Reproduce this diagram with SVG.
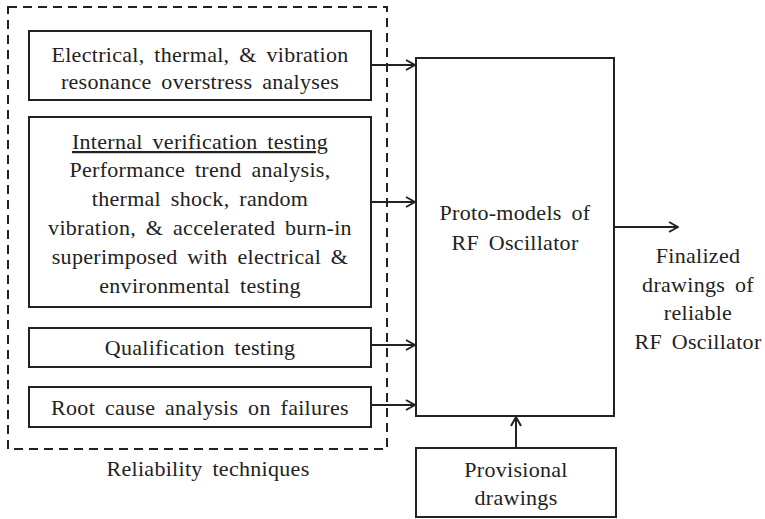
<svg xmlns="http://www.w3.org/2000/svg" width="765" height="519" viewBox="0 0 765 519">
<defs>
<style>
text{font-family:'Liberation Serif','Times New Roman',serif;font-size:22px;fill:#222;text-anchor:middle;word-spacing:4px;letter-spacing:0.3px}
.box{fill:#fff;stroke:#222;stroke-width:2}
.con{stroke:#222;stroke-width:2;fill:none}
</style>
<marker id="arr" viewBox="0 0 12 12" refX="11" refY="6" markerWidth="12" markerHeight="12" markerUnits="userSpaceOnUse" orient="auto">
<path d="M2,1 L11,6 L2,11" fill="none" stroke="#222" stroke-width="2"/>
</marker>
</defs>
<rect width="765" height="519" fill="#fff"/>
<g id="reliability">
<rect x="8" y="7" width="379" height="442" fill="none" stroke="#222" stroke-width="2" stroke-dasharray="9,6"/>
<text x="208" y="476">Reliability techniques</text>
</g>
<g id="n1">
<rect class="box" x="29" y="31" width="342" height="69"/>
<text x="200" y="62">Electrical, thermal, &amp; vibration</text>
<text x="200" y="89">resonance overstress analyses</text>
</g>
<g id="n2">
<rect class="box" x="29" y="117" width="342" height="190"/>
<text x="200" y="149" text-decoration="underline">Internal verification testing</text>
<text x="200" y="177">Performance trend analysis,</text>
<text x="200" y="206">thermal shock, random</text>
<text x="200" y="235">vibration, &amp; accelerated burn-in</text>
<text x="200" y="264">superimposed with electrical &amp;</text>
<text x="200" y="293">environmental testing</text>
</g>
<g id="n3">
<rect class="box" x="29" y="328" width="342" height="39"/>
<text x="200" y="355">Qualification testing</text>
</g>
<g id="n4">
<rect class="box" x="29" y="387" width="342" height="40"/>
<text x="200" y="415">Root cause analysis on failures</text>
</g>
<g id="proto">
<rect class="box" x="416" y="58" width="198" height="358"/>
<text x="515" y="220">Proto-models of</text>
<text x="515" y="250">RF Oscillator</text>
</g>
<g id="provisional">
<rect class="box" x="416" y="448" width="200" height="69"/>
<text x="516" y="477">Provisional</text>
<text x="516" y="505">drawings</text>
</g>
<g id="final">
<text x="698" y="263">Finalized</text>
<text x="698" y="292">drawings of</text>
<text x="698" y="320">reliable</text>
<text x="698" y="349">RF Oscillator</text>
</g>
<g id="connectors">
<line class="con" x1="371" y1="65" x2="415" y2="65" marker-end="url(#arr)"/>
<line class="con" x1="371" y1="202" x2="415" y2="202" marker-end="url(#arr)"/>
<line class="con" x1="371" y1="345" x2="415" y2="345" marker-end="url(#arr)"/>
<line class="con" x1="371" y1="405" x2="415" y2="405" marker-end="url(#arr)"/>
<line class="con" x1="614" y1="227" x2="678" y2="227" marker-end="url(#arr)"/>
<line class="con" x1="516" y1="448" x2="516" y2="417" marker-end="url(#arr)"/>
</g>
</svg>
